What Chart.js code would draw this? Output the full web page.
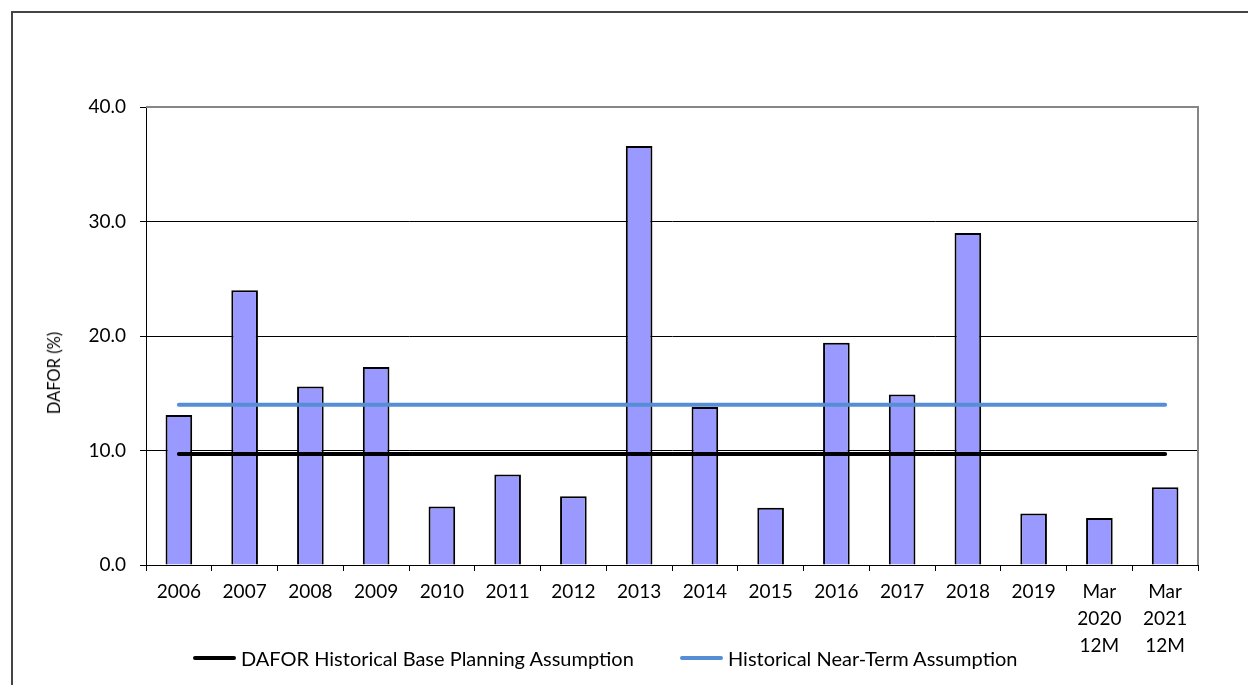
<!DOCTYPE html>
<html>
<head>
<meta charset="utf-8">
<script src="https://cdn.jsdelivr.net/npm/chart.js@4"></script>
<style>
  html, body { margin: 0; padding: 0; background: #fff; }
  #wrap { position: relative; width: 1248px; height: 685px; overflow: hidden; font-family: Lato, "Open Sans", sans-serif; color: #000; }
  #frame { position: absolute; left: 11px; top: 11px; width: 1300px; height: 700px; border-top: 2px solid #444; border-left: 2px solid #444; box-sizing: border-box; }
  canvas { position: absolute; left: 0; top: 0; }
  #ytitle { position: absolute; left: 54px; top: 373px; transform: translate(-50%, -50%) rotate(-90deg); font-size: 16.5px; white-space: nowrap; }
  .legend { position: absolute; top: 658px; transform: translateY(-50%); display: flex; align-items: center; font-size: 20px; white-space: nowrap; }
  .legend .swatch { width: 43px; height: 4px; border-radius: 2px; margin-right: 5px; }
</style>
</head>
<body>
<div id="wrap">
  <div id="frame"></div>
  <canvas id="chart" width="1248" height="685"></canvas>
  <div id="ytitle">DAFOR (%)</div>
  <div class="legend" style="left:193px;"><div class="swatch" style="background:#000;"></div><span>DAFOR Historical Base Planning Assumption</span></div>
  <div class="legend" style="left:680px;"><div class="swatch" style="background:#558ed5;"></div><span>Historical Near-Term Assumption</span></div>
</div>
<script>
// Categories (multi-line labels are arrays)
const categories = ['2006', '2007', '2008', '2009', '2010', '2011', '2012', '2013', '2014',
  '2015', '2016', '2017', '2018', '2019', ['Mar', '2020', '12M'], ['Mar', '2021', '12M']];

// Annual DAFOR (%)
const dafor = [13.1, 24.0, 15.6, 17.3, 5.1, 7.9, 6.0, 36.6, 13.8, 5.0, 19.4, 14.9, 29.0, 4.5, 4.1, 6.8];

// Planning assumptions (%), flat across all periods
const basePlanning = [9.7, 9.7, 9.7, 9.7, 9.7, 9.7, 9.7, 9.7, 9.7, 9.7, 9.7, 9.7, 9.7, 9.7, 9.7, 9.7];
const nearTerm = [14.0, 14.0, 14.0, 14.0, 14.0, 14.0, 14.0, 14.0, 14.0, 14.0, 14.0, 14.0, 14.0, 14.0, 14.0, 14.0];

// Y-axis tick values
const yTicks = [0, 10, 20, 30, 40];

Chart.defaults.font.family = 'Lato, "Open Sans", sans-serif';
Chart.defaults.color = '#000';

// Gray frame on the top and right sides of the plot area
const plotFrame = {
  id: 'plotFrame',
  beforeDatasetsDraw(chart) {
    const { ctx, chartArea: a } = chart;
    ctx.save();
    ctx.strokeStyle = '#868686';
    ctx.lineWidth = 2;
    ctx.beginPath();
    ctx.moveTo(a.left, a.top);
    ctx.lineTo(a.right, a.top);
    ctx.lineTo(a.right, a.bottom);
    ctx.stroke();
    ctx.restore();
  }
};

new Chart(document.getElementById('chart'), {
  data: {
    labels: categories,
    datasets: [
      {
        type: 'line',
        label: 'DAFOR Historical Base Planning Assumption',
        data: basePlanning,
        borderColor: '#000',
        borderWidth: 4,
        borderCapStyle: 'round',
        pointRadius: 0,
        order: 0
      },
      {
        type: 'line',
        label: 'Historical Near-Term Assumption',
        data: nearTerm,
        borderColor: '#558ed5',
        borderWidth: 4,
        borderCapStyle: 'round',
        pointRadius: 0,
        order: 0
      },
      {
        type: 'bar',
        label: 'DAFOR',
        data: dafor,
        backgroundColor: '#9999ff',
        borderColor: '#000',
        borderWidth: 2,
        barPercentage: 0.405,
        categoryPercentage: 1,
        order: 1
      }
    ]
  },
  options: {
    responsive: false,
    animation: false,
    layout: { padding: { top: 107, right: 50, bottom: 0, left: 0 } },
    plugins: {
      legend: { display: false },
      tooltip: { enabled: false }
    },
    scales: {
      x: {
        offset: true,
        afterFit(scale) { scale.height = 120; },
        grid: { offset: true, drawOnChartArea: false, drawTicks: true, tickLength: 6, tickColor: '#000', lineWidth: 1 },
        border: { color: '#000', width: 1 },
        ticks: {
          maxRotation: 0,
          autoSkip: false,
          padding: 7,
          font: { size: 19, lineHeight: 1.42 }
        }
      },
      y: {
        min: 0,
        max: 40,
        afterFit(scale) { scale.width = 146; },
        afterBuildTicks(scale) { scale.ticks = yTicks.map(v => ({ value: v })); },
        grid: {
          color: ctx => (ctx.tick && ctx.tick.value === 40 ? '#868686' : '#000'),
          lineWidth: 1,
          tickLength: 6,
          tickColor: '#000'
        },
        border: { color: '#000', width: 1 },
        ticks: {
          padding: 14,
          font: { size: 19 },
          callback: v => Number(v).toFixed(1)
        }
      }
    }
  },
  plugins: [plotFrame]
});
</script>
</body>
</html>
